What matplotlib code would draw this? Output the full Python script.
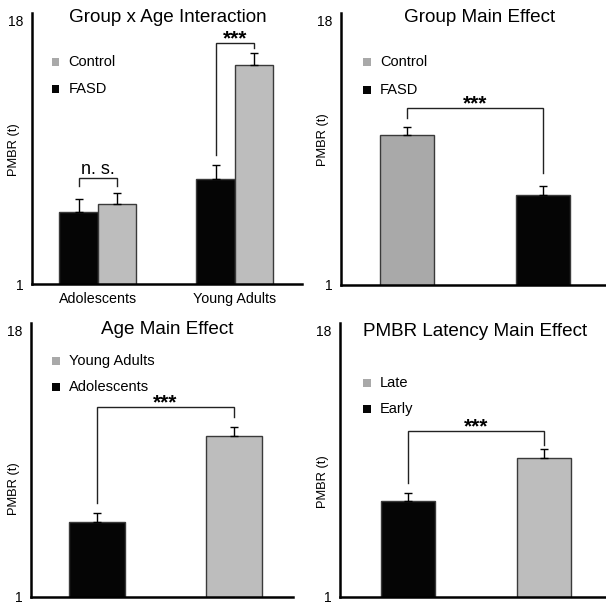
import matplotlib
matplotlib.use("Agg")
import matplotlib.pyplot as plt
from matplotlib.patches import Rectangle

plt.rcParams['font.family'] = ['Liberation Sans', 'DejaVu Sans']

W, H = 606, 604

# ---- data ----
p1_groups = ["Adolescents", "Young Adults"]
p1_fasd = [5.67, 7.78]
p1_fasd_err = [0.80, 0.90]
p1_control = [6.16, 15.12]
p1_control_err = [0.73, 0.77]

p2_labels = ["Control", "FASD"]
p2_values = [10.65, 6.79]
p2_err = [0.54, 0.60]

p3_labels = ["Adolescents", "Young Adults"]
p3_values = [5.79, 11.28]
p3_err = [0.55, 0.59]

p4_labels = ["Early", "Late"]
p4_values = [7.15, 9.86]
p4_err = [0.51, 0.57]

BLACK = "#050505"
GREY1 = "#bdbdbd"
GREY2 = "#a9a9a9"
EDGE = "#3a3a3a"

fig = plt.figure(figsize=(W / 100, H / 100), dpi=100)


def ftext(x, y, s, **kw):
    fig.text(x / W, 1 - y / H, s, **kw)


def make_ax(left, right, top, bottom, xlim, ylab_x, ylab_y):
    ax = fig.add_axes([left / W, 1 - bottom / H, (right - left) / W, (bottom - top) / H])
    ax.set_xlim(*xlim)
    ax.set_ylim(1, 18.5)
    ax.set_yticks([1, 18])
    ax.set_yticklabels(["1", "18"], fontsize=10)
    ax.tick_params(axis='y', length=0, pad=6)
    ax.tick_params(axis='x', length=0, pad=6, labelsize=10.3)
    ax.set_xticks([])
    for s in ["top", "right"]:
        ax.spines[s].set_visible(False)
    for s in ["left", "bottom"]:
        ax.spines[s].set_linewidth(1.8)
    ftext(ylab_x, ylab_y, "PMBR (t)", fontsize=9.3, rotation=90, ha='center', va='center')
    return ax


def legend_entry(x, y, color, label):
    sz = 7.5
    fig.add_artist(Rectangle(((x - sz / 2) / W, 1 - (y + sz / 2) / H), sz / W, sz / H,
                             transform=fig.transFigure, facecolor=color, edgecolor='none'))
    ftext(x + 13, y, label, fontsize=10.5, va='center', ha='left')


def bars(ax, xs, vals, errs, colors, width):
    ax.bar(xs, vals, width=width, bottom=0, color=colors, edgecolor=EDGE, linewidth=1.0, zorder=2)
    ax.errorbar(xs, vals, yerr=[[0] * len(errs), errs], fmt='none', ecolor='black',
                elinewidth=1.0, capsize=3, capthick=1.0, zorder=3)


def bracket(ax, x1, x2, ytop, y1, y2, label, size=15, off=-0.8, weight='bold'):
    ax.plot([x1, x1, x2, x2], [y1, ytop, ytop, y2], color='#222222', lw=1.0, zorder=4,
            solid_joinstyle='miter')
    ax.annotate(label, xy=((x1 + x2) / 2, ytop), xytext=(0, off), textcoords='offset points',
                ha='center', va='baseline', fontsize=size, fontweight=weight)


# ---- Panel 1 ----
ax1 = make_ax(32, 302, 13, 284, (-0.48, 1.49), 14, 150)
w1 = 0.28
xs = list(range(len(p1_groups)))
xf = [x - w1 / 2 for x in xs]
xc = [x + w1 / 2 for x in xs]
bars(ax1, xf, p1_fasd, p1_fasd_err, BLACK, w1)
bars(ax1, xc, p1_control, p1_control_err, GREY1, w1)
ax1.set_xticks(xs)
ax1.set_xticklabels(p1_groups)
bracket(ax1, xf[0], xc[0], 7.84, 7.33, 7.33, "n. s.", size=13, off=3, weight='normal')
bracket(ax1, xf[1], xc[1], 16.56, 9.33, 16.24, "***")
ftext(168, 18, "Group x Age Interaction", fontsize=13.6, ha='center', va='center')
legend_entry(55.5, 62, GREY2, "Control")
legend_entry(55.5, 89, BLACK, "FASD")

# ---- Panel 2 ----
ax2 = make_ax(341, 605, 13, 285, (-0.485, 1.456), 323, 140)
xs2 = list(range(len(p2_labels)))
bars(ax2, xs2, p2_values, p2_err, [GREY2, BLACK], 0.4)
bracket(ax2, 0, 1, 12.39, 11.75, 8.21, "***")
ftext(480, 18, "Group Main Effect", fontsize=13.6, ha='center', va='center')
legend_entry(367, 62, GREY2, "Control")
legend_entry(367, 90, BLACK, "FASD")

# ---- Panel 3 ----
ax3 = make_ax(31, 293, 323, 597, (-0.48, 1.43), 14, 489)
xs3 = list(range(len(p3_labels)))
bars(ax3, xs3, p3_values, p3_err, [BLACK, GREY1], 0.41)
bracket(ax3, 0, 1, 13.13, 7.0, 12.49, "***")
ftext(167, 330, "Age Main Effect", fontsize=13.6, ha='center', va='center')
legend_entry(56, 361, GREY2, "Young Adults")
legend_entry(56, 387, BLACK, "Adolescents")

# ---- Panel 4 ----
ax4 = make_ax(340, 605, 323, 597, (-0.5, 1.45), 323, 482)
xs4 = list(range(len(p4_labels)))
bars(ax4, xs4, p4_values, p4_err, [BLACK, GREY1], 0.4)
bracket(ax4, 0, 1, 11.6, 8.28, 10.7, "***")
ftext(475, 332, "PMBR Latency Main Effect", fontsize=13.6, ha='center', va='center')
legend_entry(367, 383, GREY2, "Late")
legend_entry(367, 409, BLACK, "Early")

fig.savefig("out.png", dpi=100)
